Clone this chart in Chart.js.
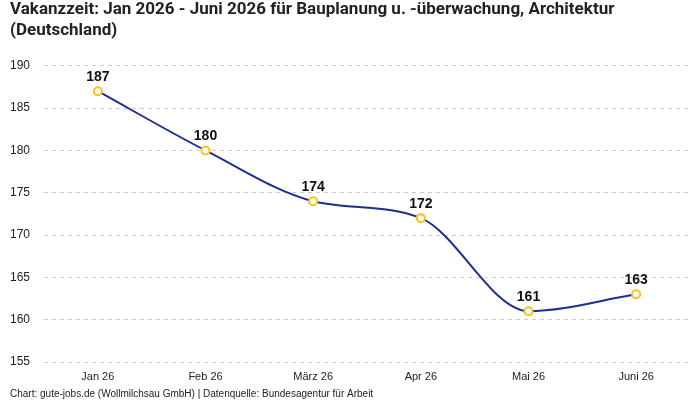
<!DOCTYPE html>
<html>
<head>
<meta charset="utf-8">
<script src="https://cdn.jsdelivr.net/npm/chart.js@4"></script>
<style>
  html, body { margin: 0; padding: 0; background: #fff; }
  #wrap { width: 700px; height: 400px; }
</style>
</head>
<body>
<div id="wrap"><canvas id="chart"></canvas></div>
<script>
const months = ['Jan 26', 'Feb 26', 'März 26', 'Apr 26', 'Mai 26', 'Juni 26'];
const vakanzTage = [187, 180, 174, 172, 161, 163];
const yTicks = [155, 160, 165, 170, 175, 180, 185, 190];

// Werte über die Punkte schreiben
const pointLabels = {
    id: 'pointLabels',
    afterDatasetsDraw(chart) {
        const ctx = chart.ctx;
        const meta = chart.getDatasetMeta(0);
        ctx.save();
        ctx.font = 'bold 14px "Liberation Sans", sans-serif';
        ctx.fillStyle = '#111';
        ctx.textAlign = 'center';
        ctx.textBaseline = 'bottom';
        meta.data.forEach((pt, i) => {
            ctx.fillText(vakanzTage[i], pt.x, pt.y - 7);
        });
        ctx.restore();
    }
};

const ctx = document.getElementById('chart').getContext('2d');
new Chart(ctx, {
    type: 'line',
    data: {
        labels: months,
        datasets: [{
            data: vakanzTage,
            borderColor: '#1f2f8f',
            borderWidth: 2,
            cubicInterpolationMode: 'monotone',
            pointRadius: 4,
            pointBorderWidth: 2,
            pointBackgroundColor: '#fff',
            pointBorderColor: '#f7c21c'
        }]
    },
    options: {
        responsive: true,
        maintainAspectRatio: false,
        animation: false,
        layout: { padding: { left: 10, right: 10, top: 0, bottom: 0 } },
        plugins: {
            legend: { display: false },
            tooltip: { enabled: false },
            title: {
                display: true,
                text: ['Vakanzzeit: Jan 2026 - Juni 2026 für Bauplanung u. -überwachung, Architektur', '(Deutschland)'],
                align: 'start',
                color: '#222',
                font: { family: '"Liberation Sans Narrow", "Roboto", sans-serif', size: 17, weight: 'bold', lineHeight: 1.2 },
                padding: { top: 0, bottom: 25 }
            },
            subtitle: {
                display: true,
                position: 'bottom',
                align: 'start',
                text: 'Chart: gute-jobs.de (Wollmilchsau GmbH) | Datenquelle: Bundesagentur für Arbeit',
                color: '#222',
                font: { family: '"Liberation Sans", sans-serif', size: 10, lineHeight: 1 },
                padding: { top: 6, bottom: 1 }
            }
        },
        scales: {
            x: {
                offset: true,
                grid: { display: false },
                border: { display: false },
                ticks: { color: '#222', font: { family: '"Liberation Sans", sans-serif', size: 11, lineHeight: 1 }, padding: 1 }
            },
            y: {
                min: 155,
                max: 190,
                afterBuildTicks(axis) {
                    axis.ticks = yTicks.map(v => ({ value: v }));
                },
                afterFit(axis) {
                    axis.width = 34;
                },
                grid: { color: '#cccccc', tickLength: 0 },
                border: { display: false, dash: [4, 4] },
                ticks: { color: '#222', font: { family: '"Liberation Sans", sans-serif', size: 12 }, padding: 14 }
            }
        }
    },
    plugins: [pointLabels]
});
</script>
</body>
</html>
